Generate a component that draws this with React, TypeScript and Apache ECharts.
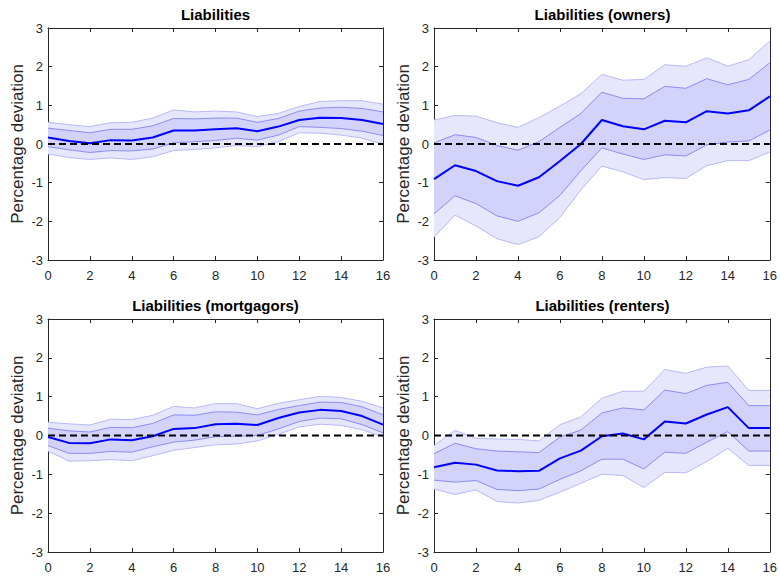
import React, { useEffect, useRef } from "react";
import * as echarts from "echarts";

const horizons = [0,1,2,3,4,5,6,7,8,9,10,11,12,13,14,15,16];
const titles = ["Liabilities", "Liabilities (owners)", "Liabilities (mortgagors)", "Liabilities (renters)"];
const yTicks = [-3, -2, -1, 0, 1, 2, 3];

// Panel 1: Liabilities
const p1Median = [0.17,0.08,0.02,0.10,0.09,0.17,0.35,0.35,0.38,0.41,0.33,0.45,0.62,0.68,0.67,0.62,0.52];
const p1InnerUp = [0.41,0.35,0.29,0.38,0.38,0.47,0.66,0.65,0.67,0.67,0.56,0.66,0.85,0.93,0.95,0.92,0.83];
const p1InnerLo = [-0.07,-0.15,-0.22,-0.17,-0.18,-0.13,0.03,0.06,0.09,0.15,0.10,0.23,0.45,0.43,0.40,0.33,0.22];
const p1OuterUp = [0.56,0.50,0.45,0.55,0.56,0.67,0.88,0.83,0.85,0.83,0.71,0.79,0.97,1.10,1.12,1.12,1.03];
const p1OuterLo = [-0.26,-0.35,-0.40,-0.36,-0.40,-0.33,-0.17,-0.14,-0.10,-0.04,-0.07,0.06,0.29,0.28,0.23,0.15,0.00];

// Panel 2: owners
const p2Median = [-0.91,-0.55,-0.70,-0.96,-1.08,-0.86,-0.44,0.00,0.62,0.46,0.38,0.60,0.56,0.85,0.79,0.87,1.23];
const p2InnerUp = [0.03,0.24,0.17,-0.04,-0.16,0.06,0.43,0.79,1.34,1.18,1.17,1.49,1.44,1.69,1.53,1.67,2.10];
const p2InnerLo = [-1.81,-1.34,-1.54,-1.86,-2.00,-1.78,-1.33,-0.69,-0.10,-0.26,-0.40,-0.28,-0.31,-0.02,0.05,0.08,0.36];
const p2OuterUp = [0.62,0.74,0.72,0.55,0.43,0.68,0.98,1.30,1.80,1.65,1.67,2.05,2.01,2.23,2.01,2.18,2.66];
const p2OuterLo = [-2.41,-1.84,-2.12,-2.45,-2.60,-2.40,-1.90,-1.19,-0.57,-0.72,-0.92,-0.87,-0.89,-0.56,-0.43,-0.43,-0.21];

// Panel 3: mortgagors
const p3Median = [-0.04,-0.19,-0.20,-0.10,-0.12,-0.02,0.17,0.19,0.29,0.30,0.27,0.45,0.59,0.66,0.63,0.50,0.28];
const p3InnerUp = [0.19,0.12,0.09,0.21,0.20,0.31,0.53,0.52,0.61,0.60,0.53,0.67,0.77,0.86,0.85,0.74,0.53];
const p3InnerLo = [-0.26,-0.46,-0.46,-0.41,-0.43,-0.29,-0.17,-0.12,-0.03,-0.02,0.00,0.17,0.36,0.45,0.43,0.28,0.07];
const p3OuterUp = [0.34,0.30,0.27,0.42,0.41,0.52,0.75,0.71,0.82,0.82,0.69,0.83,0.92,1.01,0.98,0.88,0.71];
const p3OuterLo = [-0.40,-0.66,-0.65,-0.62,-0.65,-0.52,-0.38,-0.31,-0.24,-0.22,-0.14,0.03,0.22,0.29,0.26,0.15,-0.04];

// Panel 4: renters
const p4Median = [-0.82,-0.70,-0.75,-0.90,-0.92,-0.91,-0.59,-0.39,-0.02,0.05,-0.10,0.36,0.31,0.54,0.73,0.19,0.19];
const p4InnerUp = [-0.47,-0.20,-0.34,-0.40,-0.42,-0.44,-0.04,0.14,0.58,0.71,0.66,1.17,1.08,1.29,1.37,0.77,0.77];
const p4InnerLo = [-1.15,-1.20,-1.16,-1.39,-1.42,-1.38,-1.13,-0.91,-0.61,-0.61,-0.86,-0.43,-0.46,-0.17,0.10,-0.40,-0.40];
const p4OuterUp = [-0.26,0.13,-0.07,-0.09,-0.10,-0.14,0.28,0.48,0.96,1.14,1.14,1.70,1.60,1.76,1.79,1.16,1.16];
const p4OuterLo = [-1.38,-1.52,-1.40,-1.70,-1.74,-1.67,-1.46,-1.23,-1.00,-1.03,-1.34,-0.95,-0.96,-0.67,-0.33,-0.77,-0.77];

const panels = [
  { median: p1Median, innerUp: p1InnerUp, innerLo: p1InnerLo, outerUp: p1OuterUp, outerLo: p1OuterLo },
  { median: p2Median, innerUp: p2InnerUp, innerLo: p2InnerLo, outerUp: p2OuterUp, outerLo: p2OuterLo },
  { median: p3Median, innerUp: p3InnerUp, innerLo: p3InnerLo, outerUp: p3OuterUp, outerLo: p3OuterLo },
  { median: p4Median, innerUp: p4InnerUp, innerLo: p4InnerLo, outerUp: p4OuterUp, outerLo: p4OuterLo },
];

const FONT = "'Liberation Sans', Arial, Helvetica, sans-serif";
const TXT = "#262626";
const OUTER_FILL = "#e6e6fc";
const OUTER_EDGE = "#b8b8f8";
const INNER_FILL = "#d2d2fa";
const INNER_EDGE = "#8c8cf0";
const MEDIAN = "#0000ff";

const grids = [
  { left: 48, top: 28, width: 335, height: 232 },
  { left: 434, top: 28, width: 337, height: 232 },
  { left: 48, top: 319, width: 335, height: 233 },
  { left: 434, top: 319, width: 337, height: 233 },
];

function bandSeries(lo: number[], up: number[], fill: string, xi: number, yi: number) {
  return {
    type: "custom",
    coordinateSystem: "cartesian2d",
    xAxisIndex: xi,
    yAxisIndex: yi,
    silent: true,
    data: horizons.map((h, k) => [h, lo[k], up[k]]),
    encode: { x: 0, y: [1, 2] },
    renderItem: (params: any, api: any) => {
      if (params.dataIndex !== 0) return null;
      const top = horizons.map((h, k) => api.coord([h, up[k]]));
      const bottom = horizons.map((h, k) => api.coord([h, lo[k]])).reverse();
      return {
        type: "polygon",
        shape: { points: top.concat(bottom) },
        style: { fill, stroke: null },
      };
    },
  };
}

function buildOption() {
  const xAxis: any[] = [];
  const yAxis: any[] = [];
  const series: any[] = [];
  const title: any[] = [];
  const grid: any[] = [];

  const tickCommon = { show: true, inside: true, length: 4, lineStyle: { color: TXT, width: 1 } };
  const lineCommon = { show: true, onZero: false, lineStyle: { color: TXT, width: 1 } };

  grids.forEach((g, i) => {
    grid.push({ ...g, show: false, containLabel: false });
    title.push({
      text: titles[i],
      left: g.left + g.width / 2,
      top: g.top - 21,
      padding: 0,
      textAlign: "center",
      textStyle: { fontFamily: FONT, fontSize: 15, fontWeight: "bold", color: "#000" },
    });
    xAxis.push({
      type: "value", gridIndex: i, min: 0, max: 16, interval: 2, position: "bottom",
      axisLine: lineCommon, axisTick: tickCommon,
      axisLabel: { show: true, color: TXT, fontFamily: FONT, fontSize: 13, margin: 9 },
      splitLine: { show: false },
    });
    xAxis.push({
      type: "value", gridIndex: i, min: 0, max: 16, interval: 2, position: "top",
      axisLine: lineCommon, axisTick: tickCommon,
      axisLabel: { show: false }, splitLine: { show: false },
    });
    yAxis.push({
      type: "value", gridIndex: i, min: yTicks[0], max: yTicks[yTicks.length - 1], interval: 1, position: "left",
      name: "Percentage deviation", nameLocation: "middle", nameGap: 22,
      nameTextStyle: { fontFamily: FONT, fontSize: 17, color: TXT },
      axisLine: lineCommon, axisTick: tickCommon,
      axisLabel: { show: true, color: TXT, fontFamily: FONT, fontSize: 13, margin: 5 },
      splitLine: { show: false },
    });
    yAxis.push({
      type: "value", gridIndex: i, min: yTicks[0], max: yTicks[yTicks.length - 1], interval: 1, position: "right",
      axisLine: lineCommon, axisTick: tickCommon,
      axisLabel: { show: false }, splitLine: { show: false },
    });

    const p = panels[i];
    const xi = i * 2;
    const yi = i * 2;
    const pts = (arr: number[]) => arr.map((v, k) => [horizons[k], v]);
    const common = { type: "line", xAxisIndex: xi, yAxisIndex: yi, symbol: "none", silent: true, smooth: false };

    series.push(bandSeries(p.outerLo, p.outerUp, OUTER_FILL, xi, yi));
    series.push({ ...common, data: pts(p.outerLo), lineStyle: { color: OUTER_EDGE, width: 1 } });
    series.push({ ...common, data: pts(p.outerUp), lineStyle: { color: OUTER_EDGE, width: 1 } });
    series.push(bandSeries(p.innerLo, p.innerUp, INNER_FILL, xi, yi));
    series.push({ ...common, data: pts(p.innerLo), lineStyle: { color: INNER_EDGE, width: 1 } });
    series.push({ ...common, data: pts(p.innerUp), lineStyle: { color: INNER_EDGE, width: 1 } });
    series.push({ ...common, data: pts(p.median), lineStyle: { color: MEDIAN, width: 2 } });
    series.push({ ...common, data: horizons.map((h) => [h, 0]), lineStyle: { color: "#000", width: 2, type: [7, 4] } });
  });

  return { animation: false, backgroundColor: "#ffffff", title, grid, xAxis, yAxis, series };
}

export default function App() {
  const ref = useRef<HTMLDivElement>(null);
  useEffect(() => {
    document.body.style.margin = "0";
    if (!ref.current) return;
    const chart = echarts.init(ref.current, undefined, { renderer: "svg" });
    chart.setOption(buildOption() as any);
    return () => chart.dispose();
  }, []);
  return <div ref={ref} style={{ width: 780, height: 576 }} />;
}
